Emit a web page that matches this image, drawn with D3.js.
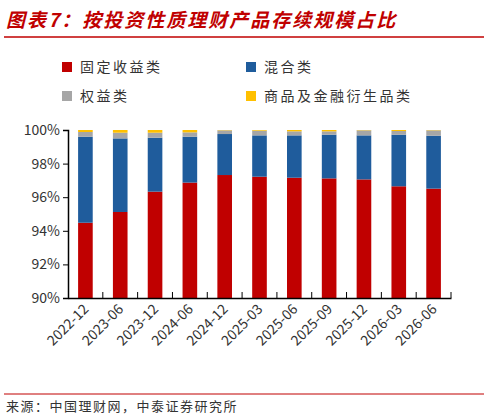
<!DOCTYPE html><html><head><meta charset="utf-8"><script src="https://cdn.jsdelivr.net/npm/d3@7"></script>
<style>body{margin:0;background:#fff;font-family:"Noto Sans CJK SC",sans-serif}</style></head><body><svg width="488" height="417"></svg>
<script>
const categories=["2022-12","2023-06","2023-12","2024-06","2024-12","2025-03","2025-06","2025-09","2025-12","2026-03","2026-06"];
const fixedIncome=[94.48,95.12,96.33,96.87,97.32,97.22,97.16,97.12,97.06,96.65,96.51];
const mixed=[5.12,4.38,3.21,2.73,2.44,2.46,2.52,2.60,2.62,3.07,3.15];
const equity=[0.28,0.34,0.30,0.26,0.22,0.28,0.24,0.20,0.30,0.22,0.32];
const derivative=[0.12,0.16,0.16,0.14,0.02,0.04,0.08,0.08,0.02,0.06,0.02];
const seriesNames=["固定收益类","混合类","权益类","商品及金融衍生品类"];
const colors=["#c00000","#1f5c9c","#a6a6a6","#ffc000"];
const yTicks=[90,92,94,96,98,100];
const svg=d3.select("svg");
svg.append("text").attr("x",6).attr("y",27).attr("fill","#c00000").attr("font-size",19).attr("font-weight","bold").attr("font-style","italic").attr("letter-spacing",2).text("图表7：按投资性质理财产品存续规模占比");
svg.append("line").attr("x1",4).attr("x2",484).attr("y1",37).attr("y2",37).attr("stroke","#c00000").attr("stroke-width",1.5);
const x=d3.scaleBand().domain(categories).range([68,451]).paddingInner(0.58).paddingOuter(0.29);
const y=d3.scaleLinear().domain([90,100]).range([298,130]);
const data=categories.map((c,i)=>({c,s:[fixedIncome[i],mixed[i],equity[i],derivative[i]]}));
data.forEach(d=>{let acc=0;d.s.forEach((v,k)=>{const lo=acc;acc+=v;const a=Math.max(lo,90),b=Math.min(acc,100);if(b>a)svg.append("rect").attr("x",x(d.c)).attr("width",x.bandwidth()).attr("y",y(b)).attr("height",y(a)-y(b)).attr("fill",colors[k]);});});
const ya=svg.append("g").attr("transform","translate(68,0)").call(d3.axisLeft(y).tickValues(yTicks).tickFormat(d=>d+"%").tickSizeOuter(0).tickSize(5));
ya.selectAll("text").attr("font-size",14).attr("fill","#333").attr("font-family","Noto Sans CJK SC");
const xa=svg.append("g").attr("transform","translate(0,298)").call(d3.axisBottom(x).tickSize(0).tickSizeOuter(0));
xa.selectAll("text").attr("font-size",14).attr("fill","#333").attr("font-family","Noto Sans CJK SC").attr("text-anchor","end").attr("transform","rotate(-45)").attr("dx","-0.4em").attr("dy","0.6em");
svg.selectAll(".domain").attr("stroke","#000").attr("stroke-width",1.5);
const step=x.step();
categories.slice(1).concat(["_"]).forEach((c,i)=>{const xx=x(categories[0])-x.paddingInner()*step/2+step*(i+1);svg.append("line").attr("x1",xx).attr("x2",xx).attr("y1",298).attr("y2",292).attr("stroke","#000");});
const leg=[[62,68],[246,68],[62,97],[246,97]];
seriesNames.forEach((n,k)=>{svg.append("rect").attr("x",leg[k][0]).attr("y",leg[k][1]-6).attr("width",10).attr("height",10).attr("fill",colors[k]);svg.append("text").attr("x",leg[k][0]+18).attr("y",leg[k][1]+4).attr("font-size",14).attr("letter-spacing",2.5).attr("fill","#333").text(n);});
svg.append("line").attr("x1",4).attr("x2",484).attr("y1",394).attr("y2",394).attr("stroke","#c00000").attr("stroke-width",1);
svg.append("text").attr("x",6).attr("y",411).attr("font-size",13).attr("letter-spacing",1.5).attr("fill","#333").text("来源：中国理财网，中泰证券研究所");
</script></body></html>
